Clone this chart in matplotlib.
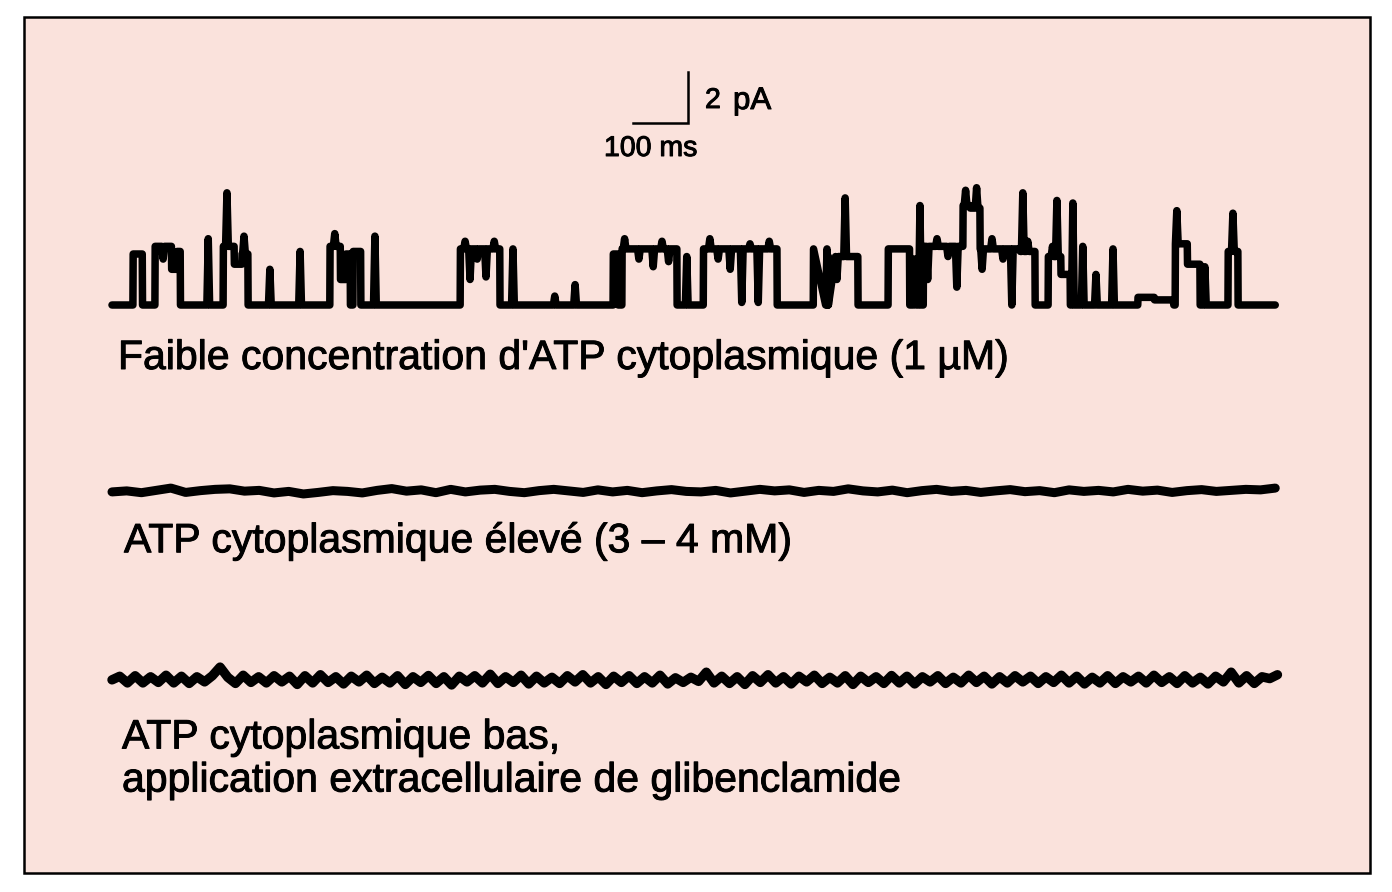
import matplotlib
matplotlib.use('Agg')
import matplotlib.pyplot as plt
import matplotlib.patheffects as pe
from matplotlib.patches import Rectangle

W, H = 1392, 892
plt.rcParams['font.family'] = ['Liberation Sans', 'DejaVu Sans']

# trace 1: openings (start ms, end ms, level pA) and brief spikes (time ms, peak pA)
openings = [
    (38, 55, 2.0),
    (78, 108, 2.3), (108, 118, 1.4), (118, 124, 2.1),
    (202, 222, 2.3), (222, 236, 1.6), (236, 247, 2.0),
    (396, 415, 2.3), (415, 425, 1.0), (425, 433, 2.0),
    (438, 452, 2.1),
    (633, 705, 2.2),
    (911, 920, 2.0), (927, 1027, 2.2),
    (1075, 1209, 2.2),
    (1275, 1300, 2.2), (1302, 1356, 1.9),
    (1411, 1450, 2.2), (1457, 1462, 1.8),
    (1475, 1547, 2.3), (1547, 1560, 3.9), (1560, 1578, 3.8), (1578, 1651, 2.2),
    (1651, 1678, 2.1),
    (1702, 1725, 1.9), (1725, 1742, 1.2),
    (1865, 1895, 0.3), (1895, 1930, 0.2),
    (1933, 1955, 2.4), (1955, 1978, 1.6),
    (2029, 2047, 2.1),
]
spikes = [
    (175, 2.6), (209, 4.4), (240, 2.7), (287, 1.4), (342, 2.1),
    (405, 2.8), (478, 2.7), (651, 1.0), (680, 1.1), (729, 2.2),
    (805, 0.35), (842, 0.8), (932, 2.6), (984, 1.5),
    (1087, 2.6), (1124, 1.4), (1145, 0.1), (1160, 2.4), (1175, 0.1),
    (1300, 0.4), (1318, 1.0), (1333, 4.2), (1469, 3.9),
    (1483, 1.0), (1536, 0.7), (1552, 4.5), (1572, 4.6),
    (1582, 1.4), (1636, 0.0), (1656, 4.4), (1718, 4.1), (1747, 4.0),
    (1765, 2.3), (1789, 1.2), (1820, 2.2), (1936, 3.7), (1987, 1.5),
    (2038, 3.6),
    # small flickers inside the openings
    (93, 1.8), (642, 2.5), (664, 1.8), (695, 2.5), (958, 1.8), (1000, 2.5),
    (1012, 1.7), (1102, 1.8), (1195, 2.5), (1500, 2.6), (1520, 1.9),
    (1600, 2.6), (1620, 1.8), (1665, 2.5), (1710, 2.3), (1045, 1.9),
]
trace_end = 2115

# trace 2 (ATP élevé) and trace 3 (glibenclamide): small fluctuations, pA
trace2 = [0.0, 0.04, -0.03, 0.06, 0.15, -0.02, 0.05, 0.1, 0.12, 0.03,
          0.06, -0.04, 0.02, -0.08, -0.02, 0.05, 0.02, -0.04, 0.06, 0.13,
          0.03, 0.08, -0.03, 0.1, 0.0, 0.07, 0.1, 0.02, -0.03, 0.05,
          0.1, 0.04, -0.02, 0.08, 0.0, 0.06, -0.03, 0.04, 0.09, 0.02,
          0.0, 0.06, -0.04, 0.03, 0.1, 0.04, 0.08, -0.02, 0.06, 0.02,
          0.12, 0.04, 0.0, 0.07, -0.03, 0.05, 0.1, 0.02, 0.06, -0.02,
          0.04, 0.09, 0.01, 0.05, -0.03, 0.08, 0.02, 0.06, 0.0, 0.1,
          0.03, 0.07, -0.02, 0.05, 0.09, 0.02, 0.06, 0.1, 0.08, 0.15]
trace3 = [0.0, 0.14, -0.12, 0.16, -0.12, 0.12, -0.1, 0.18, -0.12, 0.14,
          -0.14, 0.12, -0.08, 0.16, 0.5, 0.1, -0.14, 0.18, -0.1, 0.12,
          -0.12, 0.16, -0.08, 0.14, -0.18, 0.16, -0.12, 0.2, -0.1, 0.12,
          -0.16, 0.14, -0.08, 0.18, -0.14, 0.1, -0.12, 0.16, -0.18, 0.12,
          -0.1, 0.17, -0.14, 0.12, -0.2, 0.14, -0.08, 0.16, -0.12, 0.22,
          -0.14, 0.12, -0.1, 0.18, -0.16, 0.14, -0.12, 0.1, -0.14, 0.16,
          -0.08, 0.2, -0.12, 0.12, -0.18, 0.14, -0.1, 0.16, -0.14, 0.12,
          -0.12, 0.18, -0.16, 0.08, -0.1, 0.1, -0.06, 0.3, -0.12, 0.14,
          -0.14, 0.12, -0.18, 0.16, -0.1, 0.2, -0.12, 0.12, -0.16, 0.14,
          -0.08, 0.18, -0.14, 0.1, -0.12, 0.16, -0.18, 0.14, -0.1, 0.12,
          -0.14, 0.17, -0.12, 0.14, -0.16, 0.12, -0.08, 0.16, -0.14, 0.1,
          -0.12, 0.18, -0.1, 0.14, -0.16, 0.12, -0.12, 0.16, -0.08, 0.14,
          -0.14, 0.12, -0.1, 0.18, -0.12, 0.14, -0.16, 0.1, -0.12, 0.16,
          -0.14, 0.12, -0.08, 0.14, -0.12, 0.18, -0.1, 0.12, -0.14, 0.16,
          -0.12, 0.1, -0.16, 0.14, -0.08, 0.3, -0.12, 0.16, -0.14, 0.12,
          0.05, 0.2]

labels = ["Faible concentration d'ATP cytoplasmique (1 \u00b5M)",
          "ATP cytoplasmique élevé (3 \u2013 4 mM)",
          "ATP cytoplasmique bas,\napplication extracellulaire de glibenclamide"]
offsets = [0, -7.33, -14.7]   # pA, vertical separation of the traces


def level_at(t):
    for t0, t1, lv in openings:
        if t0 <= t < t1:
            return lv
    return 0.0


pts = [(0, 0.0), (trace_end, 0.0)]
for t0, t1, lv in openings:
    pts.append((t0, level_at(t0 - 0.5)))
    pts.append((t0 + 0.5, lv))
    pts.append((t1, lv))
    pts.append((t1 + 0.5, level_at(t1 + 0.5)))
for t, pk in spikes:
    base = level_at(t)
    pts += [(t - 2.5, base), (t, pk), (t + 2.5, base)]
pts.sort(key=lambda p: p[0])
t1_x = [p[0] for p in pts]
t1_y = [p[1] for p in pts]

fig = plt.figure(figsize=(W / 100, H / 100), dpi=100)
fig.patch.set_facecolor('white')
fig.patches.append(Rectangle((24 / W, 1 - 873 / H), 1346 / W, 856 / H,
                             transform=fig.transFigure, facecolor='#fae2dc',
                             edgecolor='black', linewidth=1.8, zorder=-5))

ax = fig.add_axes([0, 0, 1, 1])
ax.set_facecolor('none')
ax.set_xlim(-112 / 0.55, (W - 112) / 0.55)
ax.set_ylim(-587 / 25.5, 305 / 25.5)
ax.axis('off')

kw = dict(color='black', solid_capstyle='round', solid_joinstyle='round')
ax.plot(t1_x, [y + offsets[0] for y in t1_y], lw=5.4, **kw)
x2 = [i * trace_end / (len(trace2) - 1) for i in range(len(trace2))]
ax.plot(x2, [v + offsets[1] for v in trace2], lw=6.5, **kw)
x3 = [i * (trace_end + 4) / (len(trace3) - 1) for i in range(len(trace3))]
ax.plot(x3, [v + offsets[2] for v in trace3], lw=6.8, **kw)

# scale bar: 100 ms / 2 pA
sb_t, sb_y = 947, 7.14
ax.plot([sb_t, sb_t + 100, sb_t + 100], [sb_y, sb_y, sb_y + 2],
        color='black', lw=1.8, solid_joinstyle='miter')

bold = [pe.withStroke(linewidth=0.7, foreground='black')]
fig.text(705 / W, 1 - 101 / H, '2', fontsize=20.5, va='center', ha='left',
         path_effects=bold)
fig.text(733 / W, 1 - 101 / H, 'pA', fontsize=22.5, va='center', ha='left',
         path_effects=bold)
fig.text(604 / W, 1 - 149 / H, '100 ms', fontsize=20.5, va='center', ha='left',
         path_effects=bold)

fig.text(118 / W, 1 - 358 / H, labels[0], fontsize=29.5, va='center', ha='left',
         path_effects=bold)
fig.text(124 / W, 1 - 541 / H, labels[1], fontsize=29.5, va='center', ha='left',
         path_effects=bold)
fig.text(122 / W, 1 - 759 / H, labels[2], fontsize=29.5, va='center', ha='left',
         linespacing=1.17, path_effects=bold)

fig.savefig('out.png', dpi=100)
